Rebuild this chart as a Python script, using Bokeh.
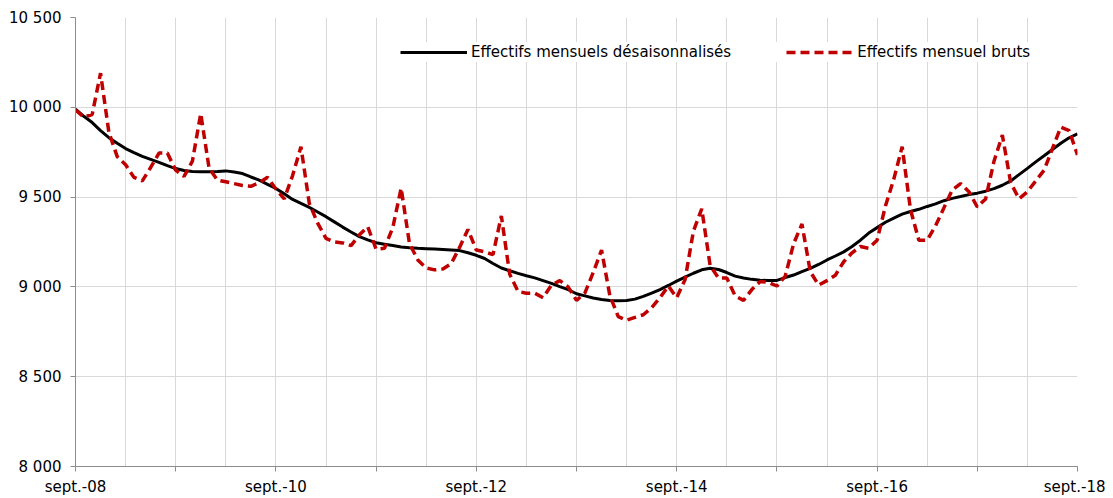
from bokeh.plotting import figure
from bokeh.models import Range1d, FixedTicker, Legend, LegendItem
from bokeh.embed import file_html
from bokeh.resources import INLINE

# Month index 0 = sept. 2008 ... 120 = sept. 2018
months = list(range(0, 121))

desaisonnalises = [
    9990, 9950, 9915, 9870, 9831, 9800, 9770, 9748, 9727, 9710, 9693, 9675,
    9659, 9648, 9642, 9641, 9641, 9643, 9646, 9640, 9631, 9612, 9594, 9571,
    9548, 9518, 9487, 9465, 9443, 9417, 9391, 9362, 9333, 9306, 9280, 9262,
    9246, 9238, 9230, 9222, 9218, 9215, 9213, 9211, 9208, 9205, 9202, 9190,
    9176, 9158, 9130, 9105, 9090, 9075, 9062, 9050, 9035, 9020, 9002, 8985,
    8962, 8950, 8938, 8930, 8924, 8923, 8924, 8932, 8947, 8965, 8985, 9008,
    9032, 9054, 9076, 9095, 9104, 9097, 9080, 9060, 9050, 9042, 9037, 9035,
    9036, 9052, 9066, 9085, 9103, 9125, 9150, 9172, 9195, 9225, 9260, 9300,
    9330, 9360, 9383, 9405, 9420, 9432, 9448, 9462, 9480, 9493, 9503, 9514,
    9522, 9533, 9547, 9566, 9590, 9625, 9660, 9696, 9730, 9765, 9800, 9830,
    9852,
]

bruts = [
    9985, 9945, 9960, 10190, 9860, 9725, 9680, 9610, 9590, 9665, 9745, 9745,
    9650, 9615, 9700, 9965, 9660, 9595, 9585, 9575, 9565, 9560, 9580, 9610,
    9545, 9490, 9620, 9780, 9465, 9355, 9270, 9250, 9245, 9230, 9290, 9335,
    9210, 9215, 9330, 9550, 9240, 9150, 9105, 9095, 9100, 9130, 9220, 9320,
    9205, 9195, 9180, 9395, 9070, 8975, 8965, 8965, 8940, 9010, 9035, 9000,
    8925, 8965, 9080, 9205, 8950, 8835, 8815, 8830, 8845, 8885, 8940, 9005,
    8940, 9040, 9310, 9435, 9120, 9050, 9050, 8950, 8925, 8985, 9030, 9025,
    9005, 9060, 9240, 9350, 9085, 9010, 9035, 9065, 9140, 9190, 9225, 9215,
    9260, 9450, 9600, 9780, 9430, 9260, 9260, 9340, 9440, 9540, 9575, 9530,
    9445, 9490, 9700, 9845, 9580, 9490, 9530, 9590, 9650, 9770, 9890, 9870,
    9735,
]

x_tick_labels = ["sept.-08", "sept.-10", "sept.-12", "sept.-14", "sept.-16", "sept.-18"]
y_ticks = [8000, 8500, 9000, 9500, 10000, 10500]
y_tick_labels = ["8 000", "8 500", "9 000", "9 500", "10 000", "10 500"]

series_names = ["Effectifs mensuels désaisonnalisés", "Effectifs mensuel bruts"]

FONT = "DejaVu Sans"
FS = "15px"

p = figure(
    width=1105, height=498,
    x_range=Range1d(0, 120), y_range=Range1d(8000, 10500),
    output_backend="svg", toolbar_location=None,
    min_border_left=75, min_border_top=17, min_border_right=28, min_border_bottom=31,
)
p.outline_line_color = None
p.background_fill_color = "white"
p.border_fill_color = "white"

# grids
p.xgrid.ticker = FixedTicker(ticks=list(range(0, 121, 6)))
p.xgrid.grid_line_color = "#d9d9d9"
p.xgrid.grid_line_width = 1
p.ygrid.grid_line_color = "#d9d9d9"
p.ygrid.grid_line_width = 1

# x axis
xa = p.xaxis[0]
xa.ticker = FixedTicker(ticks=list(range(0, 121, 12)), minor_ticks=[])
overrides = {}
for i, t in enumerate(range(0, 121, 12)):
    overrides[t] = x_tick_labels[i // 2] if i % 2 == 0 else ""
xa.major_label_overrides = overrides
xa.axis_line_color = "#8c8c8c"
xa.major_tick_line_color = "#8c8c8c"
xa.major_tick_out = 5
xa.major_tick_in = 0
xa.minor_tick_line_color = None
xa.major_label_standoff = 6
xa.major_label_text_font = FONT
xa.major_label_text_font_size = FS
xa.major_label_text_color = "black"

# y axis
ya = p.yaxis[0]
ya.ticker = FixedTicker(ticks=y_ticks, minor_ticks=[])
ya.major_label_overrides = {t: l for t, l in zip(y_ticks, y_tick_labels)}
ya.axis_line_color = "#8c8c8c"
ya.major_tick_line_color = "#8c8c8c"
ya.major_tick_out = 5
ya.major_tick_in = 0
ya.minor_tick_line_color = None
ya.major_label_standoff = 9
ya.major_label_text_font = FONT
ya.major_label_text_font_size = FS
ya.major_label_text_color = "black"

r_sa = p.line(months, desaisonnalises, line_color="black", line_width=3)
r_b = p.line(months, bruts, line_color="#c00000", line_width=3.5, line_dash="9 5")

legend = Legend(
    items=[LegendItem(label=series_names[0], renderers=[r_sa]),
           LegendItem(label=series_names[1], renderers=[r_b])],
    orientation="horizontal", location=(325, 404),
    glyph_width=67, glyph_height=20, label_height=20, label_standoff=4,
    spacing=55, padding=0, margin=0,
    border_line_color=None, background_fill_color="white", background_fill_alpha=1.0,
    label_text_font=FONT, label_text_font_size=FS, label_text_color="black",
)
p.add_layout(legend)

open("out.html", "w").write(file_html(p, INLINE))
